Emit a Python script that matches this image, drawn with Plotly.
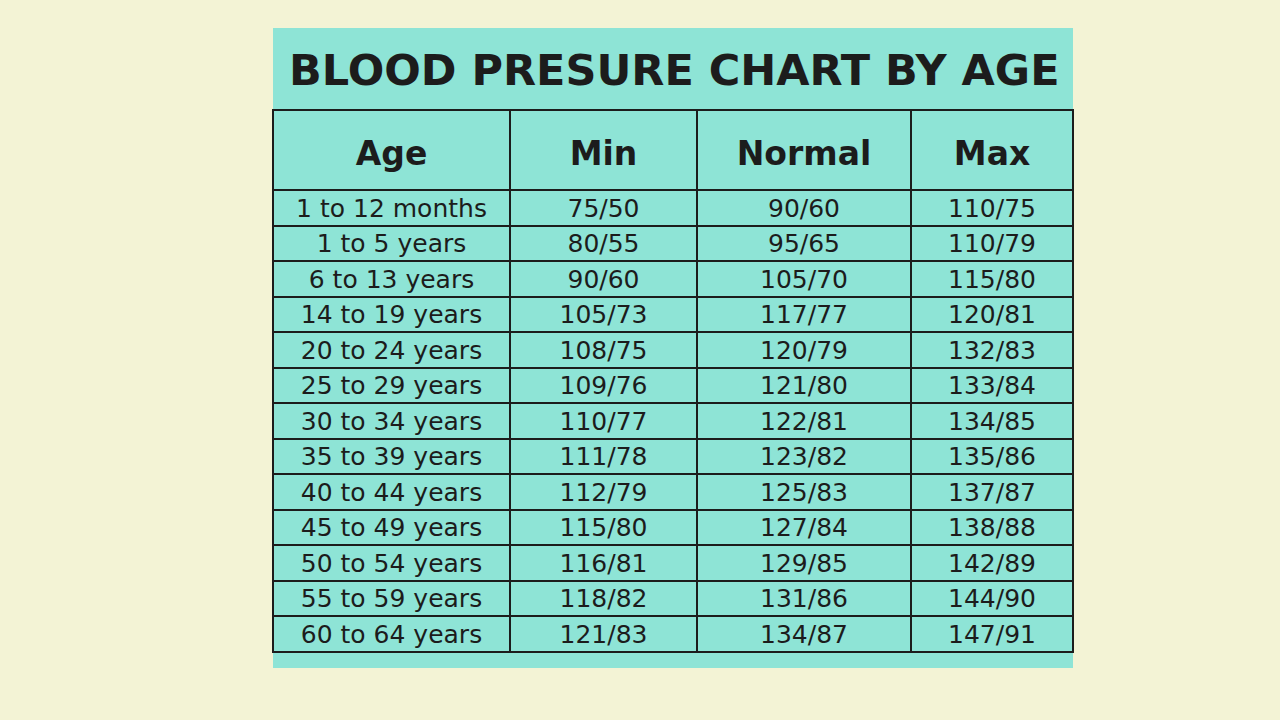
import plotly.graph_objects as go

ages = ["1 to 12 months", "1 to 5 years", "6 to 13 years", "14 to 19 years",
        "20 to 24 years", "25 to 29 years", "30 to 34 years", "35 to 39 years",
        "40 to 44 years", "45 to 49 years", "50 to 54 years", "55 to 59 years",
        "60 to 64 years"]
bp_min = ["75/50", "80/55", "90/60", "105/73", "108/75", "109/76", "110/77",
          "111/78", "112/79", "115/80", "116/81", "118/82", "121/83"]
bp_normal = ["90/60", "95/65", "105/70", "117/77", "120/79", "121/80", "122/81",
             "123/82", "125/83", "127/84", "129/85", "131/86", "134/87"]
bp_max = ["110/75", "110/79", "115/80", "120/81", "132/83", "133/84", "134/85",
          "135/86", "137/87", "138/88", "142/89", "144/90", "147/91"]
headers = ["Age", "Min", "Normal", "Max"]

teal = "#8ee4d6"
ink = "#1c1c1c"

# small spacer line pushes the header labels down to the middle of the tall header row
header_text = ["<span style='font-size:4px'> </span><br><b>%s</b>" % h for h in headers]

fig = go.Figure()
fig.add_trace(go.Table(
    domain=dict(x=[273 / 1280, 1073 / 1280], y=[1 - 668 / 720, 1 - 110 / 720]),
    columnwidth=[237, 187, 214, 162],
    header=dict(values=header_text,
                fill_color=teal, line=dict(color=ink, width=2),
                align="center", height=80,
                font=dict(family="DejaVu Sans", size=33, color=ink)),
    cells=dict(values=[ages, bp_min, bp_normal, bp_max],
               fill_color=teal, line=dict(color=ink, width=2),
               align="center", height=35.5,
               font=dict(family="DejaVu Sans", size=25, color=ink)),
))

# teal card behind the table
fig.add_shape(type="rect", xref="paper", yref="paper",
              x0=273 / 1280, x1=1073 / 1280, y0=1 - 668 / 720, y1=1 - 28 / 720,
              fillcolor=teal, line=dict(width=0), layer="below")

fig.add_annotation(text="<b>BLOOD PRESURE CHART BY AGE</b>", xref="paper", yref="paper",
                   x=674 / 1280, y=1 - 70 / 720, yanchor="middle", showarrow=False,
                   font=dict(family="DejaVu Sans", size=43, color=ink))

fig.update_layout(width=1280, height=720, margin=dict(l=0, r=0, t=0, b=0),
                  paper_bgcolor="#f3f3d5", plot_bgcolor="#f3f3d5")

fig.write_html("out.html", config={"displayModeBar": False},
               post_script="document.body.style.margin='0px';")
